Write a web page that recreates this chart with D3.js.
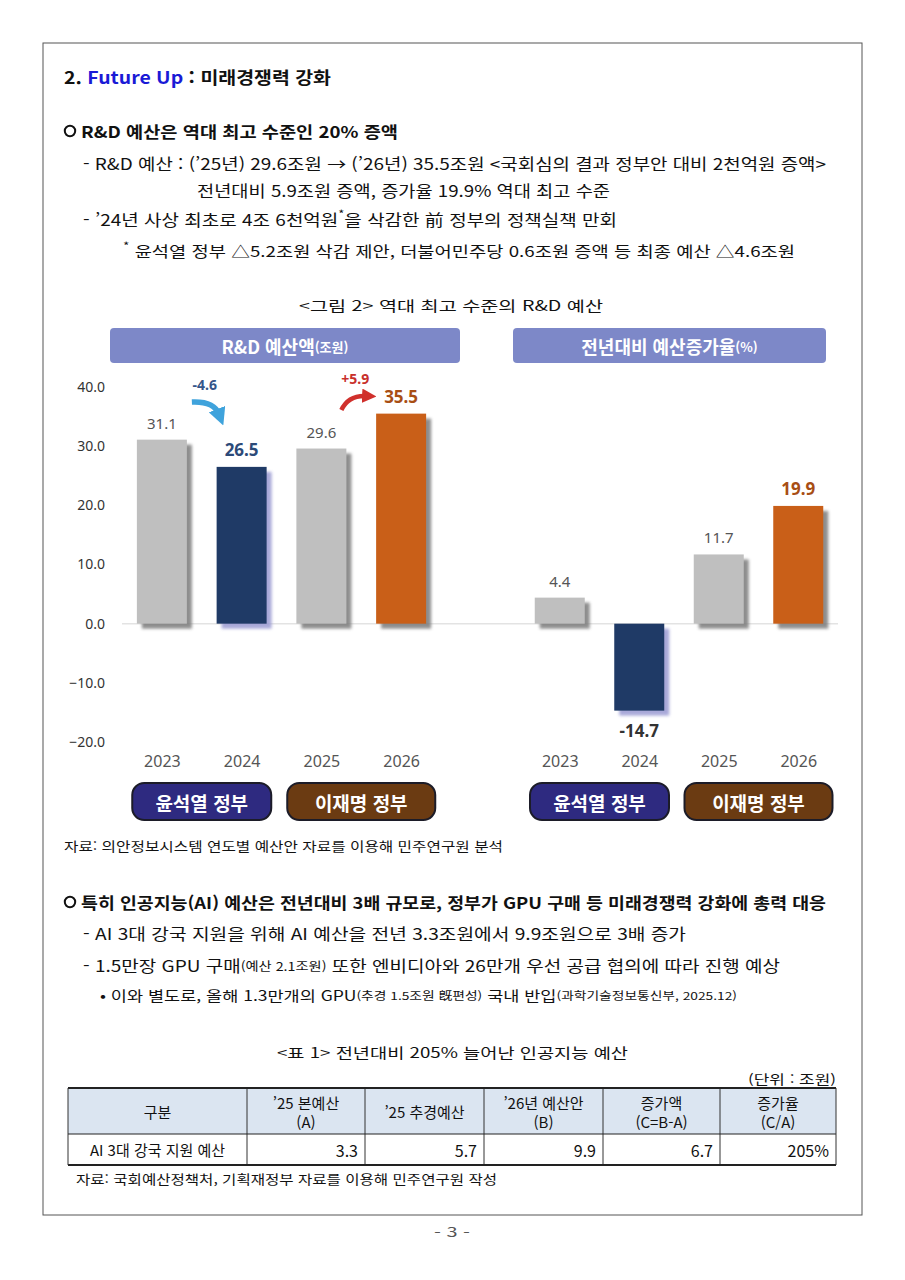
<!DOCTYPE html>
<html lang="ko">
<head>
<meta charset="UTF-8">
<title>R&D 예산</title>
<script src="https://cdn.jsdelivr.net/npm/d3@7"></script>
<style>
  body { margin: 0; background: #fff; }
  svg text { font-family: "Noto Sans CJK KR", "Noto Sans", sans-serif; }
</style>
</head>
<body>
<div id="page"></div>
<script>
// 데이터
var years = ["2023", "2024", "2025", "2026"];
var rdBudget = [31.1, 26.5, 29.6, 35.5];     // 조원
var growthRate = [4.4, -14.7, 11.7, 19.9];   // %
var yTicks = [-20, -10, 0, 10, 20, 30, 40];
var changeLabels = ["-4.6", "+5.9"];
var govNames = ["윤석열 정부", "이재명 정부"];
var govYears = [["2023", "2024"], ["2025", "2026"]];
var tableHeaders = [["구분"], ["’25 본예산", "(A)"], ["’25 추경예산"], ["’26년 예산안", "(B)"], ["증가액", "(C=B-A)"], ["증가율", "(C/A)"]];
var tableRowLabel = "AI 3대 강국 지원 예산";
var tableValues = ["3.3", "5.7", "9.9", "6.7", "205%"];

var width = 905, height = 1280;
var svg = d3.select("#page").append("svg")
    .attr("width", width)
    .attr("height", height);

var defs = svg.append("defs");
defs.append("filter").attr("id", "blur")
    .attr("x", "-20%").attr("y", "-20%").attr("width", "140%").attr("height", "140%")
    .append("feGaussianBlur").attr("stdDeviation", 1.6);
function arrowMarker(id, color) {
    defs.append("marker").attr("id", id)
        .attr("viewBox", "0 0 10 10").attr("refX", 3).attr("refY", 5)
        .attr("markerWidth", 3.2).attr("markerHeight", 3.2)
        .attr("orient", "auto")
        .append("path").attr("d", "M0,0 L10,5 L0,10 z").attr("fill", color);
}
arrowMarker("arrBlue", "#3fa3dc");
arrowMarker("arrRed", "#d0302c");

// 페이지 테두리
svg.append("rect").attr("x", 43).attr("y", 43).attr("width", 819).attr("height", 1172)
    .attr("fill", "none").attr("stroke", "#555").attr("stroke-width", 1);

// 본문 텍스트 한 줄
function line(x, y, w, size, weight, parts, color) {
    var t = svg.append("text")
        .attr("x", x).attr("y", y)
        .attr("dominant-baseline", "central")
        .attr("font-size", size)
        .attr("font-weight", weight || 400)
        .attr("fill", color || "#111");
    if (w) t.attr("textLength", w).attr("lengthAdjust", "spacingAndGlyphs");
    parts.forEach(function (p) {
        if (typeof p === "string") { t.append("tspan").text(p); return; }
        var s = t.append("tspan").text(p.t);
        if (p.fill) s.attr("fill", p.fill);
        if (p.size) s.attr("font-size", p.size);
        if (p.dy) s.attr("dy", p.dy);
    });
    return t;
}
function bullet(x, y) {
    svg.append("circle").attr("cx", x + 6).attr("cy", y).attr("r", 5.2)
        .attr("fill", "none").attr("stroke", "#111").attr("stroke-width", 2);
}

line(64, 76, 267, 17, 700, ["2. ", {t: "Future Up", fill: "#1a1ad6"}, " : 미래경쟁력 강화"]);
bullet(64, 131);
line(81, 131, 317, 16, 700, ["R&D 예산은 역대 최고 수준인 20% 증액"]);
line(83, 163, 743, 16, 400, ["- R&D 예산 : (’25년) 29.6조원 → (’26년) 35.5조원 <국회심의 결과 정부안 대비 2천억원 증액>"]);
line(197, 190, 413, 16, 400, ["전년대비 5.9조원 증액, 증가율 19.9% 역대 최고 수준"]);
line(83, 219, 534, 16, 400, ["- ’24년 사상 최초로 4조 6천억원", {t: "*", size: 11, dy: -6}, {t: "을 삭감한 前 정부의 정책실책 만회", dy: 6}]);
line(123, 250, 672, 15, 400, [{t: "*", size: 11, dy: -5}, {t: " 윤석열 정부 △5.2조원 삭감 제안, 더불어민주당 0.6조원 증액 등 최종 예산 △4.6조원", dy: 5}]);
line(299, 305, 304, 14, 400, ["<그림 2> 역대 최고 수준의 R&D 예산"]);

// ----- 차트 -----
var y = d3.scaleLinear().domain([-20, 40]).range([742, 387]);
var xL = d3.scalePoint().domain(years).range([122, 441]).padding(0.5);
var xR = d3.scalePoint().domain(years).range([520, 838]).padding(0.5);
var barW = 50;
var fillColors = ["#bfbfbf", "#1f3a66", "#bfbfbf", "#c95f18"];
var shadowColors = ["#7a7a7a", "#9a9ad2", "#7a7a7a", "#7a7a7a"];

// 제목 상자
function headerBox(x0, x1, main, sub) {
    svg.append("rect").attr("x", x0).attr("y", 328).attr("width", x1 - x0).attr("height", 35)
        .attr("rx", 4).attr("fill", "#7d88c8");
    var t = svg.append("text").attr("x", (x0 + x1) / 2).attr("y", 346)
        .attr("text-anchor", "middle").attr("dominant-baseline", "central")
        .attr("fill", "#fff").attr("font-weight", 700).attr("font-size", 18);
    t.append("tspan").text(main);
    t.append("tspan").attr("font-size", 13).text(sub);
}
headerBox(110, 460, "R&D 예산액", "(조원)");
headerBox(513, 826, "전년대비 예산증가율", "(%)");

// 0 기준선
svg.append("line").attr("x1", 122).attr("x2", 838).attr("y1", y(0)).attr("y2", y(0))
    .attr("stroke", "#e3e3e3").attr("stroke-width", 1.5);

// y축 (왼쪽 차트)
var gy = svg.append("g").attr("transform", "translate(110,0)")
    .call(d3.axisLeft(y).tickValues(yTicks).tickFormat(d3.format(".1f")).tickSize(0).tickPadding(5));
gy.select(".domain").remove();
gy.selectAll("text").attr("font-size", 14).attr("fill", "#333")
    .style("font-family", "'Noto Sans', sans-serif");

function drawBars(x, values, boldIdx, boldColors) {
    var g = svg.append("g");
    g.selectAll("rect.shadow").data(values).enter().append("rect")
        .attr("class", "shadow")
        .attr("x", function (d, i) { return x(years[i]) - barW / 2 + 5; })
        .attr("y", function (d) { return Math.min(y(d), y(0)) + 5; })
        .attr("width", barW)
        .attr("height", function (d) { return Math.abs(y(d) - y(0)); })
        .attr("fill", function (d, i) { return shadowColors[i]; })
        .attr("opacity", 0.85)
        .attr("filter", "url(#blur)");
    g.selectAll("rect.bar").data(values).enter().append("rect")
        .attr("class", "bar")
        .attr("x", function (d, i) { return x(years[i]) - barW / 2; })
        .attr("y", function (d) { return Math.min(y(d), y(0)); })
        .attr("width", barW)
        .attr("height", function (d) { return Math.abs(y(d) - y(0)); })
        .attr("fill", function (d, i) { return fillColors[i]; });
    g.selectAll("text.val").data(values).enter().append("text")
        .attr("class", "val")
        .attr("x", function (d, i) { return x(years[i]); })
        .attr("y", function (d) { return d >= 0 ? y(d) - 17 : y(d) + 20; })
        .attr("text-anchor", "middle").attr("dominant-baseline", "central")
        .attr("font-size", function (d, i) { return boldIdx.indexOf(i) >= 0 ? 17 : 15; })
        .attr("font-weight", function (d, i) { return boldIdx.indexOf(i) >= 0 ? 700 : 400; })
        .attr("fill", function (d, i) { var k = boldIdx.indexOf(i); return k >= 0 ? boldColors[k] : "#555"; })
        .style("font-family", "'Noto Sans', sans-serif")
        .text(function (d) { return d.toFixed(1); });
    // 연도
    var gx = svg.append("g").attr("transform", "translate(0,752)")
        .call(d3.axisBottom(x).tickSize(0).tickPadding(4));
    gx.select(".domain").remove();
    gx.selectAll("text").attr("font-size", 16).attr("fill", "#555")
        .style("font-family", "'Noto Sans', sans-serif");
    // 정부 라벨
    var govFill = ["#2e2a80", "#6b3b12"];
    govNames.forEach(function (name, k) {
        var cx = (x(govYears[k][0]) + x(govYears[k][1])) / 2;
        var w = k === 0 ? 139 : 148;
        svg.append("rect").attr("x", cx - w / 2).attr("y", 783).attr("width", w).attr("height", 37)
            .attr("rx", 12).attr("fill", govFill[k]).attr("stroke", "#1c1c28").attr("stroke-width", 2);
        svg.append("text").attr("x", cx).attr("y", 802)
            .attr("text-anchor", "middle").attr("dominant-baseline", "central")
            .attr("fill", "#fff").attr("font-size", 19).attr("font-weight", 700).text(name);
    });
}
drawBars(xL, rdBudget, [1, 3], ["#2c4a78", "#a84e14"]);
drawBars(xR, growthRate, [1, 3], ["#333", "#a84e14"]);

// 증감 표시 (왼쪽 차트)
var a0 = xL("2023"), a1 = xL("2024");
svg.append("text").attr("x", (a0 + a1) / 2 + 3).attr("y", 384)
    .attr("text-anchor", "middle").attr("dominant-baseline", "central")
    .attr("font-size", 14).attr("font-weight", 700).attr("fill", "#35568a")
    .style("font-family", "'Noto Sans', sans-serif").text(changeLabels[0]);
svg.append("path")
    .attr("d", "M" + (a0 + 30) + "," + 402 + " Q" + (a0 + 52) + "," + 401 + " " + (a0 + 57) + "," + 414)
    .attr("fill", "none").attr("stroke", "#3fa3dc").attr("stroke-width", 5.5)
    .attr("marker-end", "url(#arrBlue)");
var b0 = xL("2025"), b1 = xL("2026");
svg.append("text").attr("x", (b0 + b1) / 2 - 6).attr("y", 378)
    .attr("text-anchor", "middle").attr("dominant-baseline", "central")
    .attr("font-size", 14).attr("font-weight", 700).attr("fill", "#c8302c")
    .style("font-family", "'Noto Sans', sans-serif").text(changeLabels[1]);
svg.append("path")
    .attr("d", "M" + (b0 + 20) + "," + 410 + " Q" + (b0 + 27) + "," + 395 + " " + (b0 + 45) + "," + 396)
    .attr("fill", "none").attr("stroke", "#d0302c").attr("stroke-width", 4.5)
    .attr("marker-end", "url(#arrRed)");

line(64, 845, 439, 13, 400, ["자료: 의안정보시스템 연도별 예산안 자료를 이용해 민주연구원 분석"]);

// ----- AI 예산 -----
bullet(64, 902);
line(81, 902, 745, 16, 700, ["특히 인공지능(AI) 예산은 전년대비 3배 규모로, 정부가 GPU 구매 등 미래경쟁력 강화에 총력 대응"]);
line(83, 933, 603, 16, 400, ["- AI 3대 강국 지원을 위해 AI 예산을 전년 3.3조원에서 9.9조원으로 3배 증가"]);
line(83, 965, 697, 16, 400, ["- 1.5만장 GPU 구매", {t: "(예산 2.1조원)", size: 12}, " 또한 엔비디아와 26만개 우선 공급 협의에 따라 진행 예상"]);
line(100, 995, 637, 14, 400, ["• 이와 별도로, 올해 1.3만개의 GPU", {t: "(추경 1.5조원 旣편성)", size: 11}, " 국내 반입", {t: "(과학기술정보통신부, 2025.12)", size: 11}]);

line(277, 1052, 351, 14, 400, ["<표 1> 전년대비 205% 늘어난 인공지능 예산"]);
line(748, 1078, 88, 13, 400, ["(단위 : 조원)"]);

// 표
var colX = [68, 247, 365, 484, 603, 720, 836];
var tTop = 1088, tMid = 1134, tBot = 1165;
var tbl = svg.append("g");
tbl.append("rect").attr("x", colX[0]).attr("y", tTop).attr("width", colX[6] - colX[0]).attr("height", tMid - tTop)
    .attr("fill", "#dbe5f1");
tbl.selectAll("line.v").data(colX.slice(1, 6)).enter().append("line")
    .attr("x1", function (d) { return d; }).attr("x2", function (d) { return d; })
    .attr("y1", tTop).attr("y2", tBot).attr("stroke", "#333").attr("stroke-width", 1);
[[tTop, 2], [tMid, 1], [tBot, 2]].forEach(function (r) {
    tbl.append("line").attr("x1", colX[0]).attr("x2", colX[6]).attr("y1", r[0]).attr("y2", r[0])
        .attr("stroke", "#222").attr("stroke-width", r[1]);
});
[colX[0], colX[6]].forEach(function (xx) {
    tbl.append("line").attr("x1", xx).attr("x2", xx).attr("y1", tTop).attr("y2", tBot)
        .attr("stroke", "#333").attr("stroke-width", 1);
});
tableHeaders.forEach(function (h, i) {
    var cx = (colX[i] + colX[i + 1]) / 2;
    var t = tbl.append("text").attr("x", cx).attr("text-anchor", "middle")
        .attr("dominant-baseline", "central").attr("font-size", 15).attr("fill", "#111");
    if (h.length === 1) { t.attr("y", (tTop + tMid) / 2).text(h[0]); }
    else {
        t.attr("y", (tTop + tMid) / 2 - 9);
        t.append("tspan").attr("x", cx).text(h[0]);
        t.append("tspan").attr("x", cx).attr("dy", 19).text(h[1]);
    }
});
tbl.append("text").attr("x", (colX[0] + colX[1]) / 2).attr("y", (tMid + tBot) / 2)
    .attr("text-anchor", "middle").attr("dominant-baseline", "central")
    .attr("font-size", 15).attr("fill", "#111").text(tableRowLabel);
tbl.selectAll("text.num").data(tableValues).enter().append("text")
    .attr("class", "num")
    .attr("x", function (d, i) { return colX[i + 2] - 7; })
    .attr("y", (tMid + tBot) / 2)
    .attr("text-anchor", "end").attr("dominant-baseline", "central")
    .attr("font-size", 16).attr("fill", "#111")
    .text(function (d) { return d; });

line(76, 1178, 421, 13, 400, ["자료: 국회예산정책처, 기획재정부 자료를 이용해 민주연구원 작성"]);

line(434, 1231, 36, 13, 400, ["- 3 -"], "#555");
</script>
</body>
</html>
